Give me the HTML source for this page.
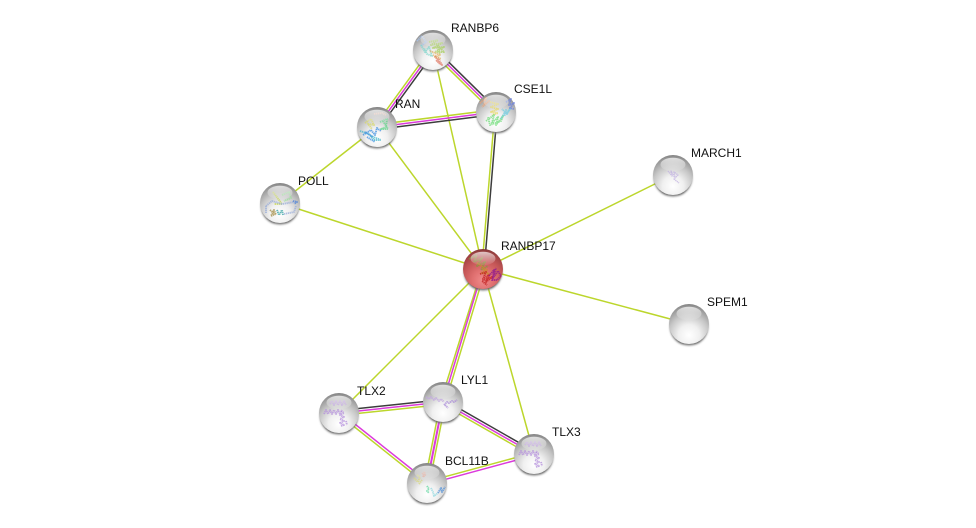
<!DOCTYPE html>
<html>
<head>
<meta charset="utf-8">
<style>
html,body{margin:0;padding:0;background:#fff;width:976px;height:528px;overflow:hidden}
svg{display:block}
text{font-family:"Liberation Sans",sans-serif;font-size:12px;fill:#111}
line{stroke-width:1.5;fill:none}
.g{stroke:#bcd62c}
.m{stroke:#dc3adc}
.k{stroke:#3c3c3c}
.s{fill:none;stroke-width:1.9;stroke-linecap:butt;stroke-linejoin:round;opacity:.75;stroke-dasharray:1.3 .6}
</style>
</head>
<body>
<svg width="976" height="528" viewBox="0 0 976 528" xmlns="http://www.w3.org/2000/svg">
<defs>
<radialGradient id="body" cx=".5" cy=".78" r=".82">
<stop offset="0" stop-color="#ffffff"/><stop offset=".32" stop-color="#f0f0f0"/><stop offset=".62" stop-color="#c6c6c6"/><stop offset=".86" stop-color="#989898"/><stop offset="1" stop-color="#787878"/>
</radialGradient>
<radialGradient id="redbody" cx=".5" cy=".78" r=".82">
<stop offset="0" stop-color="#f08c8c"/><stop offset=".32" stop-color="#e07070"/><stop offset=".62" stop-color="#c45656"/><stop offset=".86" stop-color="#9c4242"/><stop offset="1" stop-color="#783232"/>
</radialGradient>
<linearGradient id="hi" x1="0" y1="0" x2="0" y2="1">
<stop offset="0" stop-color="#fff" stop-opacity=".7"/><stop offset="1" stop-color="#fff" stop-opacity=".06"/>
</linearGradient>
<linearGradient id="sh" x1="0" y1="0" x2="0" y2="1">
<stop offset=".5" stop-color="#555"/><stop offset=".93" stop-color="#555"/><stop offset="1" stop-color="#999"/>
</linearGradient>
<filter id="bl" x="-30%" y="-30%" width="160%" height="160%"><feGaussianBlur stdDeviation="1.1"/></filter>
<g id="ball">
<circle cx="0" cy="2.6" r="19" fill="url(#sh)" filter="url(#bl)"/>
<circle r="20" fill="url(#body)"/>
</g>
<g id="redball">
<circle cx="0" cy="2.6" r="19" fill="url(#sh)" filter="url(#bl)"/>
<circle r="20" fill="url(#redbody)"/>
</g>
<ellipse id="shine" cx="0" cy="-10.5" rx="12.5" ry="6.8" fill="url(#hi)"/>
</defs>

<rect width="976" height="528" fill="#fff"/>

<!-- single evidence edges -->
<line class="g" x1="433" y1="50" x2="483" y2="269"/>
<line class="g" x1="377" y1="127" x2="483" y2="269"/>
<line class="g" x1="377" y1="127" x2="280" y2="203"/>
<line class="g" x1="280" y1="203" x2="483" y2="269"/>
<line class="g" x1="673" y1="175" x2="483" y2="269"/>
<line class="g" x1="689" y1="324" x2="483" y2="269"/>
<line class="g" x1="339" y1="413" x2="483" y2="269"/>
<line class="g" x1="534" y1="454" x2="483" y2="269"/>

<!-- RANBP6-RAN -->
<line class="g" x1="431.1" y1="48.6" x2="375.1" y2="125.6"/>
<line class="m" x1="433" y1="50" x2="377" y2="127"/>
<line class="k" x1="434.9" y1="51.4" x2="378.9" y2="128.4"/>
<!-- RANBP6-CSE1L -->
<line class="k" x1="434.7" y1="48.3" x2="497.7" y2="110.3"/>
<line class="m" x1="433" y1="50" x2="496" y2="112"/>
<line class="g" x1="431.3" y1="51.7" x2="494.3" y2="113.7"/>
<!-- RAN-CSE1L -->
<line class="g" x1="376.7" y1="124.6" x2="495.7" y2="109.6"/>
<line class="m" x1="377" y1="127" x2="496" y2="112"/>
<line class="k" x1="377.3" y1="129.4" x2="496.3" y2="114.4"/>
<!-- CSE1L-RANBP17 -->
<line class="g" x1="494.8" y1="112" x2="481.8" y2="269"/>
<line class="k" x1="497.2" y1="112" x2="484.2" y2="269"/>
<!-- LYL1-RANBP17 -->
<line class="g" x1="482" y1="269" x2="440.7" y2="401.3"/>
<line class="m" x1="483" y1="269" x2="443" y2="402"/>
<line class="g" x1="485.3" y1="269.7" x2="445.3" y2="402.7"/>
<!-- TLX2-LYL1 -->
<line class="k" x1="338.75" y1="410.6" x2="442.75" y2="399.6"/>
<line class="m" x1="339" y1="413" x2="443" y2="402"/>
<line class="g" x1="339.25" y1="415.4" x2="443.25" y2="404.4"/>
<!-- LYL1-TLX3 -->
<line class="k" x1="444.2" y1="399.9" x2="535.2" y2="451.9"/>
<line class="m" x1="443" y1="402" x2="534" y2="454"/>
<line class="g" x1="441.8" y1="404.1" x2="532.8" y2="456.1"/>
<!-- LYL1-BCL11B -->
<line class="g" x1="440.6" y1="401.55" x2="424.6" y2="482.55"/>
<line class="m" x1="443" y1="402" x2="427" y2="483" style="stroke-width:2"/>
<line class="g" x1="445.4" y1="402.45" x2="429.4" y2="483.45"/>
<!-- TLX2-BCL11B -->
<line class="m" x1="339.8" y1="412" x2="427.8" y2="482"/>
<line class="g" x1="338.2" y1="414" x2="426.2" y2="484"/>
<!-- BCL11B-TLX3 -->
<line class="g" x1="426.7" y1="481.7" x2="533.7" y2="452.7"/>
<line class="m" x1="427.3" y1="484.3" x2="534.3" y2="455.3"/>

<!-- RANBP6 -->
<g transform="translate(433,50)">
<use href="#ball"/>
<path class="s" stroke="#a8c4ee" d="M-16,-9 L-11,-14 L-7,-8 L-12,-4"/>
<path class="s" stroke="#7fd6cc" d="M-12,-5 L-8,2 L-4,-3 L-1,6 L-6,4 L-9,-2"/>
<path class="s" stroke="#a9d060" d="M-4,-8 L5,-10 L-2,-5 L9,-7 L0,-2 L11,-3 L2,2 L11,2 L4,-5 L7,4"/>
<path class="s" stroke="#e0b060" d="M-3,1 L7,5 L2,7 L8,9 L0,5"/>
<path class="s" stroke="#e07a66" d="M2,6 L7,14 L3,10 L9,15 L5,8"/>
<use href="#shine"/>
</g>
<!-- CSE1L -->
<g transform="translate(496,112)">
<use href="#ball"/>
<path class="s" stroke="#f0a070" d="M-16,-9 L-10,-14 L-12,-7 L-7,-11 L-14,-5"/>
<path class="s" stroke="#e8d860" d="M-6,-10 L2,-8 L-5,-5 L2,-3 L-5,0 L2,1 L-4,3"/>
<path class="s" stroke="#6fdc78" d="M-10,9 L-2,3 L-4,11 L2,5 L0,13 L7,4 L5,9 L-6,13 L-8,5"/>
<path class="s" stroke="#70cce0" d="M5,7 L10,-2 L8,4 L14,-3 L11,2 L6,-3"/>
<path class="s" stroke="#6a80e0" d="M10,-10 L15,-13 L13,-7 L18,-9 L14,-4 L18,-3"/>
<use href="#shine"/>
</g>
<!-- RAN -->
<g transform="translate(377,127)">
<use href="#ball"/>
<path class="s" stroke="#e8b8a8" d="M-3,-13 L5,-14 L9,-12"/>
<path class="s" stroke="#d8d868" d="M-12,-4 L-6,-8 L-3,-2 L-9,-3 L-5,2"/>
<path class="s" stroke="#60d488" d="M3,-5 L10,-8 L9,0 L4,2 L11,2 L6,-6"/>
<path class="s" stroke="#48b8cc" d="M-17,4 L-8,7 L-3,13 L4,13 L-6,9"/>
<path class="s" stroke="#3a8ce0" d="M-14,8 L-6,3 L-2,8 L0,1 L4,4 M-10,10 L-2,15 M-12,5 L-4,10"/>
<use href="#shine"/>
</g>
<!-- POLL -->
<g transform="translate(280,203)">
<use href="#ball"/>
<path class="s" stroke="#c8d850" d="M-7,-11 L2,1 L-6,1"/>
<path class="s" stroke="#98e098" d="M2,-8 L9,-11 L11,-5 L4,-2"/>
<path class="s" stroke="#98acd8" d="M-14,3 L-8,-2 L2,1 L14,-1 M-14,3 L-14,10 M4,11 L14,9 L16,3"/>
<path class="s" stroke="#4a80d8" d="M13,-2 L17,-1 L14,1"/>
<path class="s" stroke="#a08a40" d="M-10,7 L-5,11 L-9,13 L-6,7 L-4,12"/>
<path class="s" stroke="#30a0a0" d="M-3,7 L-1,12 L2,7 L3,12"/>
<use href="#shine"/>
</g>
<!-- RANBP17 -->
<g transform="translate(483,269)">
<use href="#redball"/>
<path class="s" stroke="#7e9a3c" d="M-14,-10 L-6,-14 L-9,-7 L-1,-11 L-6,-3 L2,-7 L-2,1 L5,-3"/>
<path class="s" stroke="#c88c2c" d="M-6,-6 L4,1 L-2,4 L6,5 L-1,-1"/>
<path class="s" stroke="#c01c1c" d="M-3,5 L3,3 L0,10 L6,6 L3,13 L9,8 L-1,12 L4,16"/>
<path class="s" stroke="#8c1690" d="M6,7 L11,1 L10,9 L15,2 L18,7 L14,11 L9,11 L13,-1"/>
<use href="#shine"/>
</g>
<!-- MARCH1 -->
<g transform="translate(673,175)">
<use href="#ball"/>
<path class="s" stroke="#c0b0e0" d="M-5,-4 L-1,1 L-2,-4 L2,3 L1,-3 L5,0 L1,4 L6,8" style="stroke-width:1.4"/>
<use href="#shine"/>
</g>
<!-- SPEM1 -->
<g transform="translate(689,324)">
<use href="#ball"/>
<use href="#shine"/>
</g>
<!-- TLX2 -->
<g transform="translate(339,413)">
<use href="#ball"/>
<path class="s" stroke="#b48fdc" d="M-9,-9 L-7,-12 L-5,-8 L-3,-12 L-1,-8 L1,-12 L3,-8 L5,-12 L7,-8"/>
<path class="s" stroke="#b48fdc" d="M-15,1 L-13,-3 L-11,1 L-9,-3 L-7,1 L-5,-3 L-3,1 L-1,-3 L1,1 L3,-3"/>
<path class="s" stroke="#b48fdc" d="M2,-2 L5,0 L1,2 L5,4 L1,6 L5,8 L1,10 L5,12 L2,13 M7,8 L8,12"/>
<use href="#shine"/>
</g>
<!-- LYL1 -->
<g transform="translate(443,402)">
<use href="#ball"/>
<path class="s" stroke="#c0a4e0" d="M-17,-5 L-14,-3 L-12,-5 L-9,-2 L-7,-4 L-4,-1 L-2,-3 L1,0"/>
<path class="s" stroke="#a888d8" d="M1,3 L4,0 L6,1 L9,-1 L11,0 L14,-2 M2,3 L5,6"/>
<use href="#shine"/>
</g>
<!-- TLX3 -->
<g transform="translate(534,454)">
<use href="#ball"/>
<path class="s" stroke="#b48fdc" d="M-9,-9 L-7,-12 L-5,-8 L-3,-12 L-1,-8 L1,-12 L3,-8 L5,-12 L7,-8"/>
<path class="s" stroke="#b48fdc" d="M-15,1 L-13,-3 L-11,1 L-9,-3 L-7,1 L-5,-3 L-3,1 L-1,-3 L1,1 L3,-3"/>
<path class="s" stroke="#b48fdc" d="M2,-2 L5,0 L1,2 L5,4 L1,6 L5,8 L1,10 L5,12 L2,13 M7,8 L8,12"/>
<use href="#shine"/>
</g>
<!-- BCL11B -->
<g transform="translate(427,483)">
<use href="#ball"/>
<path class="s" stroke="#d8d880" d="M-13,-5 L-9,-1 L-7,-6 L-10,-8 M-8,1 L-5,-3"/>
<path class="s" stroke="#e0a090" d="M-5,-9 L-2,-11 L-4,-6 L-1,-9"/>
<path class="s" stroke="#60d8a0" d="M0,3 L2,6 L0,8 L2,10"/>
<path class="s" stroke="#90d8e0" d="M4,5 L6,9 L7,13 L11,10"/>
<path class="s" stroke="#5090d8" d="M11,10 L14,5 L15,9 L18,4"/>
<use href="#shine"/>
</g>

<!-- labels -->
<text x="451" y="32">RANBP6</text>
<text x="514" y="93">CSE1L</text>
<text x="395" y="108">RAN</text>
<text x="298" y="185">POLL</text>
<text x="691" y="157">MARCH1</text>
<text x="501" y="250">RANBP17</text>
<text x="707" y="306">SPEM1</text>
<text x="357" y="395">TLX2</text>
<text x="461" y="384">LYL1</text>
<text x="552" y="436">TLX3</text>
<text x="445" y="465">BCL11B</text>
</svg>
</body>
</html>
